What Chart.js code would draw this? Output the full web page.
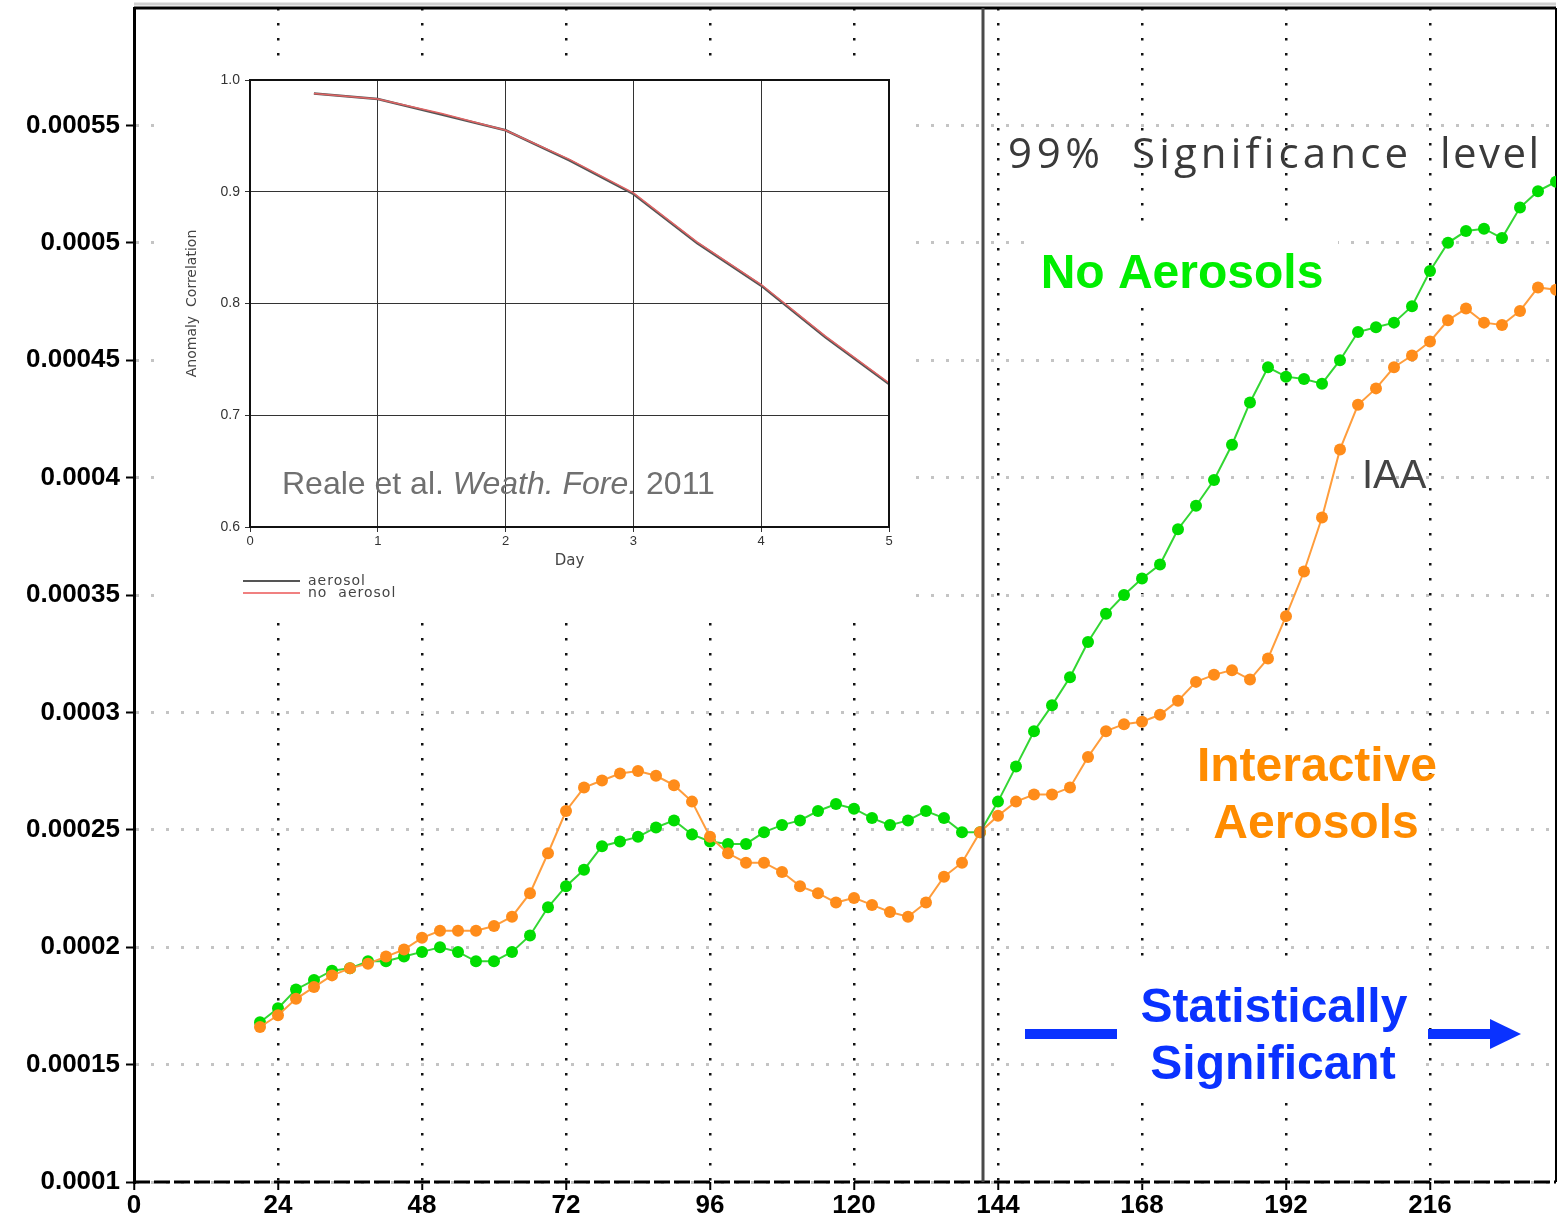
<!DOCTYPE html>
<html>
<head>
<meta charset="utf-8">
<title>No Aerosols vs Interactive Aerosols</title>
<script src="https://cdn.jsdelivr.net/npm/chart.js@4.4.1/dist/chart.umd.min.js"></script>
<style>
  body { margin: 0; background: #fff; }
  #wrap { position: relative; width: 1558px; height: 1218px; overflow: hidden; }
  #main { position: absolute; left: 0; top: 0; }
  #inset { position: absolute; left: 166px; top: 58px; width: 744px; height: 557px; background: #fff; }
  #inset canvas { position: absolute; left: 0; top: 0; }
  #ref { position: absolute; left: 116px; top: 409px; font: 32px "Liberation Sans", Arial, sans-serif; line-height: 32px; color: #707070; white-space: nowrap; }
  .key { position: absolute; left: 77px; font: 14px "DejaVu Sans", sans-serif; letter-spacing: 1px; color: #444; line-height: 14px; white-space: nowrap; }
  .key span { display: inline-block; width: 57px; height: 2px; margin-right: 8px; vertical-align: middle; }
</style>
</head>
<body>
<div id="wrap">
  <canvas id="main" width="1558" height="1218"></canvas>
  <div id="inset">
    <canvas id="inset-chart" width="744" height="557"></canvas>
    <div id="ref">Reale et al. <i>Weath. Fore.</i> 2011</div>
    <div class="key" style="top:515px"><span style="background:#555"></span>aerosol</div>
    <div class="key" style="top:527px"><span style="background:#f08080"></span>no&nbsp; aerosol</div>
  </div>
</div>
<script>
// Forecast hour of every point (every 3 h)
const hours = [21, 24, 27, 30, 33, 36, 39, 42, 45, 48, 51, 54, 57, 60, 63, 66, 69, 72, 75, 78,
  81, 84, 87, 90, 93, 96, 99, 102, 105, 108, 111, 114, 117, 120, 123, 126, 129, 132, 135, 138,
  141, 144, 147, 150, 153, 156, 159, 162, 165, 168, 171, 174, 177, 180, 183, 186, 189, 192, 195, 198,
  201, 204, 207, 210, 213, 216, 219, 222, 225, 228, 231, 234, 237];

// No Aerosols (green)
const noAerosols = [
  0.000168, 0.000174, 0.000182, 0.000186, 0.000190, 0.000191, 0.000194, 0.000194, 0.000196, 0.000198,
  0.000200, 0.000198, 0.000194, 0.000194, 0.000198, 0.000205, 0.000217, 0.000226, 0.000233, 0.000243,
  0.000245, 0.000247, 0.000251, 0.000254, 0.000248, 0.000245, 0.000244, 0.000244, 0.000249, 0.000252,
  0.000254, 0.000258, 0.000261, 0.000259, 0.000255, 0.000252, 0.000254, 0.000258, 0.000255, 0.000249,
  0.000249, 0.000262, 0.000277, 0.000292, 0.000303, 0.000315, 0.000330, 0.000342, 0.000350, 0.000357,
  0.000363, 0.000378, 0.000388, 0.000399, 0.000414, 0.000432, 0.000447, 0.000443, 0.000442, 0.000440,
  0.000450, 0.000462, 0.000464, 0.000466, 0.000473, 0.000488, 0.000500, 0.000505, 0.000506, 0.000502,
  0.000515, 0.000522, 0.000526];

// Interactive Aerosols (orange)
const interactive = [
  0.000166, 0.000171, 0.000178, 0.000183, 0.000188, 0.000191, 0.000193, 0.000196, 0.000199, 0.000204,
  0.000207, 0.000207, 0.000207, 0.000209, 0.000213, 0.000223, 0.000240, 0.000258, 0.000268, 0.000271,
  0.000274, 0.000275, 0.000273, 0.000269, 0.000262, 0.000247, 0.000240, 0.000236, 0.000236, 0.000232,
  0.000226, 0.000223, 0.000219, 0.000221, 0.000218, 0.000215, 0.000213, 0.000219, 0.000230, 0.000236,
  0.000249, 0.000256, 0.000262, 0.000265, 0.000265, 0.000268, 0.000281, 0.000292, 0.000295, 0.000296,
  0.000299, 0.000305, 0.000313, 0.000316, 0.000318, 0.000314, 0.000323, 0.000341, 0.000360, 0.000383,
  0.000412, 0.000431, 0.000438, 0.000447, 0.000452, 0.000458, 0.000467, 0.000472, 0.000466, 0.000465,
  0.000471, 0.000481, 0.000480];

// Hour where the difference becomes significant at 99%
const sigHour = 141.5;

// Axis ranges
const xMin = 0, xMax = 237, xStep = 24;
const yMin = 0.0001, yMax = 0.0006, yStep = 0.00005;

// Inset: anomaly correlation by day
const days = [0.5, 1, 1.5, 2, 2.5, 3, 3.5, 4, 4.5, 5];
const acAerosol = [0.988, 0.983, 0.969, 0.955, 0.928, 0.898, 0.854, 0.816, 0.770, 0.728];
const acNoAerosol = [0.988, 0.983, 0.970, 0.955, 0.929, 0.899, 0.855, 0.817, 0.771, 0.729];

const sans = '"Liberation Sans", Arial, sans-serif';

function points(xs, ys) {
  return xs.map((x, i) => ({ x: x, y: ys[i] }));
}

// Draw text so it fills a given width (wide letter spacing)
function fitText(ctx, text, x, y, width) {
  const chars = [...text];
  const natural = chars.reduce((s, ch) => s + ctx.measureText(ch).width, 0);
  const gap = (width - natural) / (chars.length - 1);
  chars.forEach(ch => {
    ctx.fillText(ch, x, y);
    x += ctx.measureText(ch).width + gap;
  });
}

// Frame: top / right lines and the dashed bottom axis
const framePlugin = {
  id: 'frame',
  beforeDatasetsDraw(chart) {
    const { ctx, chartArea: a } = chart;
    ctx.save();
    ctx.lineWidth = 3;
    ctx.strokeStyle = '#cfcfcf';
    ctx.beginPath(); ctx.moveTo(a.left, a.top - 4); ctx.lineTo(a.right, a.top - 4); ctx.stroke();
    ctx.strokeStyle = '#000';
    ctx.beginPath(); ctx.moveTo(a.left, a.top); ctx.lineTo(a.right, a.top); ctx.stroke();
    ctx.lineWidth = 2;
    ctx.beginPath(); ctx.moveTo(a.right, a.top); ctx.lineTo(a.right, a.bottom); ctx.stroke();
    ctx.lineWidth = 3;
    ctx.setLineDash([16, 4]);
    ctx.beginPath(); ctx.moveTo(a.left, a.bottom); ctx.lineTo(a.right, a.bottom); ctx.stroke();
    ctx.restore();
  }
};

// Labels written on the plot
const notesPlugin = {
  id: 'notes',
  beforeDatasetsDraw(chart) {
    const ctx = chart.ctx;
    ctx.save();

    // white boxes behind labels
    ctx.fillStyle = '#fff';
    ctx.fillRect(1027, 227, 311, 80);
    ctx.fillRect(1198, 738, 230, 107);
    ctx.fillRect(1120, 956, 305, 136);

    ctx.textBaseline = 'alphabetic';
    ctx.fillStyle = '#3a3a3a';
    ctx.font = '42px "Open Sans", sans-serif';
    ctx.textAlign = 'left';
    fitText(ctx, '99%', 1008, 168, 92);
    fitText(ctx, 'Significance', 1132, 168, 276);
    fitText(ctx, 'level', 1440, 168, 99);

    ctx.fillStyle = '#444';
    ctx.font = '40px ' + sans;
    ctx.fillText('IAA', 1362, 488);

    ctx.textAlign = 'center';
    ctx.font = 'bold 48px ' + sans;
    ctx.fillStyle = '#00ee00';
    ctx.fillText('No Aerosols', 1182, 288);
    ctx.fillStyle = '#ff8c00';
    ctx.fillText('Interactive', 1317, 781);
    ctx.fillText('Aerosols', 1316, 838);
    ctx.fillStyle = '#0a32ff';
    ctx.fillText('Statistically', 1274, 1022);
    ctx.fillText('Significant', 1273, 1079);

    // bar and arrow
    ctx.fillRect(1025, 1029, 92, 10);
    ctx.fillRect(1428, 1029, 63, 10);
    ctx.beginPath();
    ctx.moveTo(1490, 1019); ctx.lineTo(1521, 1034); ctx.lineTo(1490, 1049);
    ctx.closePath();
    ctx.fill();
    ctx.restore();
  }
};

const mainChart = new Chart(document.getElementById('main'), {
  type: 'line',
  data: {
    datasets: [
      {
        label: '99% Significance level',
        data: [{ x: sigHour, y: yMin }, { x: sigHour, y: yMax }],
        borderColor: '#4a4a4a',
        borderWidth: 3,
        pointRadius: 0
      },
      {
        label: 'Interactive Aerosols',
        data: points(hours, interactive),
        borderColor: '#ff9d3c',
        borderWidth: 2,
        pointRadius: 6,
        pointBorderWidth: 0,
        pointBackgroundColor: '#ff8c1a'
      },
      {
        label: 'No Aerosols',
        data: points(hours, noAerosols),
        borderColor: '#33d633',
        borderWidth: 2,
        pointRadius: 6,
        pointBorderWidth: 0,
        pointBackgroundColor: '#00dd00'
      }
    ]
  },
  options: {
    responsive: false,
    animation: false,
    layout: { autoPadding: false, padding: { top: 8, right: 2 } },
    plugins: { legend: { display: false }, tooltip: { enabled: false } },
    scales: {
      x: {
        type: 'linear',
        min: xMin,
        max: xMax,
        afterFit: s => { s.height = 36; s.paddingLeft = 0; s.paddingRight = 0; },
        ticks: {
          stepSize: xStep,
          includeBounds: false,
          color: '#000',
          padding: 0,
          font: { family: sans, size: 26, weight: 'bold' }
        },
        grid: {
          color: c => (c.tick && c.tick.value === 0) ? 'rgba(0,0,0,0)' : '#111',
          lineWidth: 2.5,
          tickColor: '#000',
          tickWidth: 2,
          tickLength: 8
        },
        border: { display: false, dash: [2.5, 12.5] }
      },
      y: {
        min: yMin,
        max: yMax,
        afterFit: s => { s.width = 134; s.paddingTop = 0; s.paddingBottom = 0; },
        ticks: {
          stepSize: yStep,
          color: '#000',
          padding: 6,
          font: { family: sans, size: 26, weight: 'bold' },
          callback: v => (v >= yMax - 1e-12) ? null : String(+v.toFixed(5))
        },
        grid: {
          color: '#c4c4c4',
          lineWidth: 3,
          tickColor: '#000',
          tickWidth: 2,
          tickLength: 8
        },
        border: { display: true, color: '#000', width: 3, dash: [3, 12] }
      }
    }
  },
  plugins: [framePlugin, notesPlugin]
});

// Inset box around the plotting area
const insetFrame = {
  id: 'insetFrame',
  afterDatasetsDraw(chart) {
    const { ctx, chartArea: a } = chart;
    ctx.save();
    ctx.strokeStyle = '#111';
    ctx.lineWidth = 2;
    ctx.strokeRect(a.left, a.top, a.right - a.left, a.bottom - a.top);
    ctx.restore();
  }
};

const insetChart = new Chart(document.getElementById('inset-chart'), {
  type: 'line',
  data: {
    datasets: [
      {
        label: 'no aerosol',
        data: points(days, acNoAerosol),
        borderColor: '#e06464',
        borderWidth: 1.5,
        pointRadius: 0
      },
      {
        label: 'aerosol',
        data: points(days, acAerosol),
        borderColor: '#555',
        borderWidth: 2.5,
        pointRadius: 0
      }
    ]
  },
  options: {
    responsive: false,
    animation: false,
    layout: { autoPadding: false, padding: { top: 22, right: 21 } },
    plugins: { legend: { display: false }, tooltip: { enabled: false } },
    scales: {
      x: {
        type: 'linear',
        min: 0,
        max: 5,
        afterFit: s => { s.height = 88; s.paddingLeft = 0; s.paddingRight = 0; },
        ticks: { stepSize: 1, color: '#333', padding: 2, font: { family: sans, size: 13 } },
        grid: { color: '#333', lineWidth: 1, tickLength: 5 },
        border: { color: '#111', width: 2 },
        title: {
          display: true,
          text: 'Day',
          color: '#444',
          font: { family: '"DejaVu Sans", sans-serif', size: 15 },
          padding: { top: 0, bottom: 45 }
        }
      },
      y: {
        min: 0.6,
        max: 1.0,
        afterFit: s => { s.width = 84; s.paddingTop = 0; s.paddingBottom = 0; },
        ticks: {
          stepSize: 0.1,
          color: '#333',
          padding: 5,
          font: { family: sans, size: 14 },
          callback: v => v.toFixed(1)
        },
        grid: { color: '#333', lineWidth: 1, tickLength: 5 },
        border: { color: '#111', width: 2 },
        title: {
          display: true,
          text: 'Anomaly  Correlation',
          color: '#444',
          font: { family: '"DejaVu Sans", sans-serif', size: 14 },
          padding: { top: 18, bottom: 0 }
        }
      }
    }
  },
  plugins: [insetFrame]
});
</script>
</body>
</html>
